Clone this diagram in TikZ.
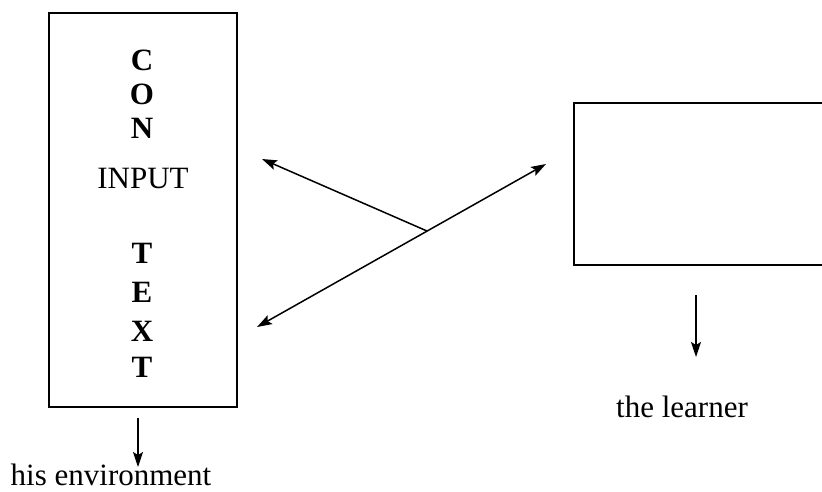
\documentclass[tikz,border=0pt]{standalone}
\usepackage{fontspec}
\setmainfont{Liberation Serif}
\usetikzlibrary{arrows.meta}
\begin{document}
\begin{tikzpicture}[x=1pt,y=-1pt,
  boxline/.style={line width=2pt},
  arr/.style={line width=1.5pt,-{Stealth[length=15pt,width=10pt,inset=3pt]}},
  darr/.style={line width=1.5pt,{Stealth[length=15pt,width=10pt,inset=3pt]}-{Stealth[length=15pt,width=10pt,inset=3pt]}},
  letter/.style={font=\fontsize{31}{37}\selectfont\bfseries,inner sep=0pt,anchor=center},
  lbl/.style={font=\fontsize{31}{37}\selectfont,inner sep=0pt,anchor=base}]
\useasboundingbox (0,0) rectangle (822,491);
% left box
\node[boxline,draw,minimum width=188pt,minimum height=394pt,inner sep=0pt] (ctx) at (143,210) {};
\node[letter] (c1) at (142,60) {C};
\node[letter] (c2) at (142,94) {O};
\node[letter] (c3) at (142,128) {N};
\node[lbl] (inp) at (143,188) {INPUT};
\node[letter] (c4) at (142,253) {T};
\node[letter] (c5) at (142,292) {E};
\node[letter] (c6) at (142,331) {X};
\node[letter] (c7) at (142,367) {T};
% right box (open to the right)
\coordinate (rtl) at (574,103);
\coordinate (rbl) at (574,265);
\draw[boxline] (830,103) -- (rtl) -- (rbl) -- (830,265);
\node[inner sep=0pt] (rbox) at (698,184) {};
% crossing arrows
\coordinate (a1) at (257,327);
\coordinate (a2) at (546,164);
\coordinate (j) at (427,231);
\coordinate (a3) at (262,159);
\draw[darr] (a1) -- (a2);
\draw[arr] (j) -- (a3);
% labels below
\node[lbl] (env) at (111,485) {his environment};
\node[lbl] (lrn) at (682,417) {the learner};
\coordinate (e0) at (138,418);
\coordinate (e1) at (138,467);
\draw[arr] (e0) -- (e1);
\coordinate (l0) at (696,295);
\coordinate (l1) at (696,357);
\draw[arr] (l0) -- (l1);
\end{tikzpicture}
\end{document}
